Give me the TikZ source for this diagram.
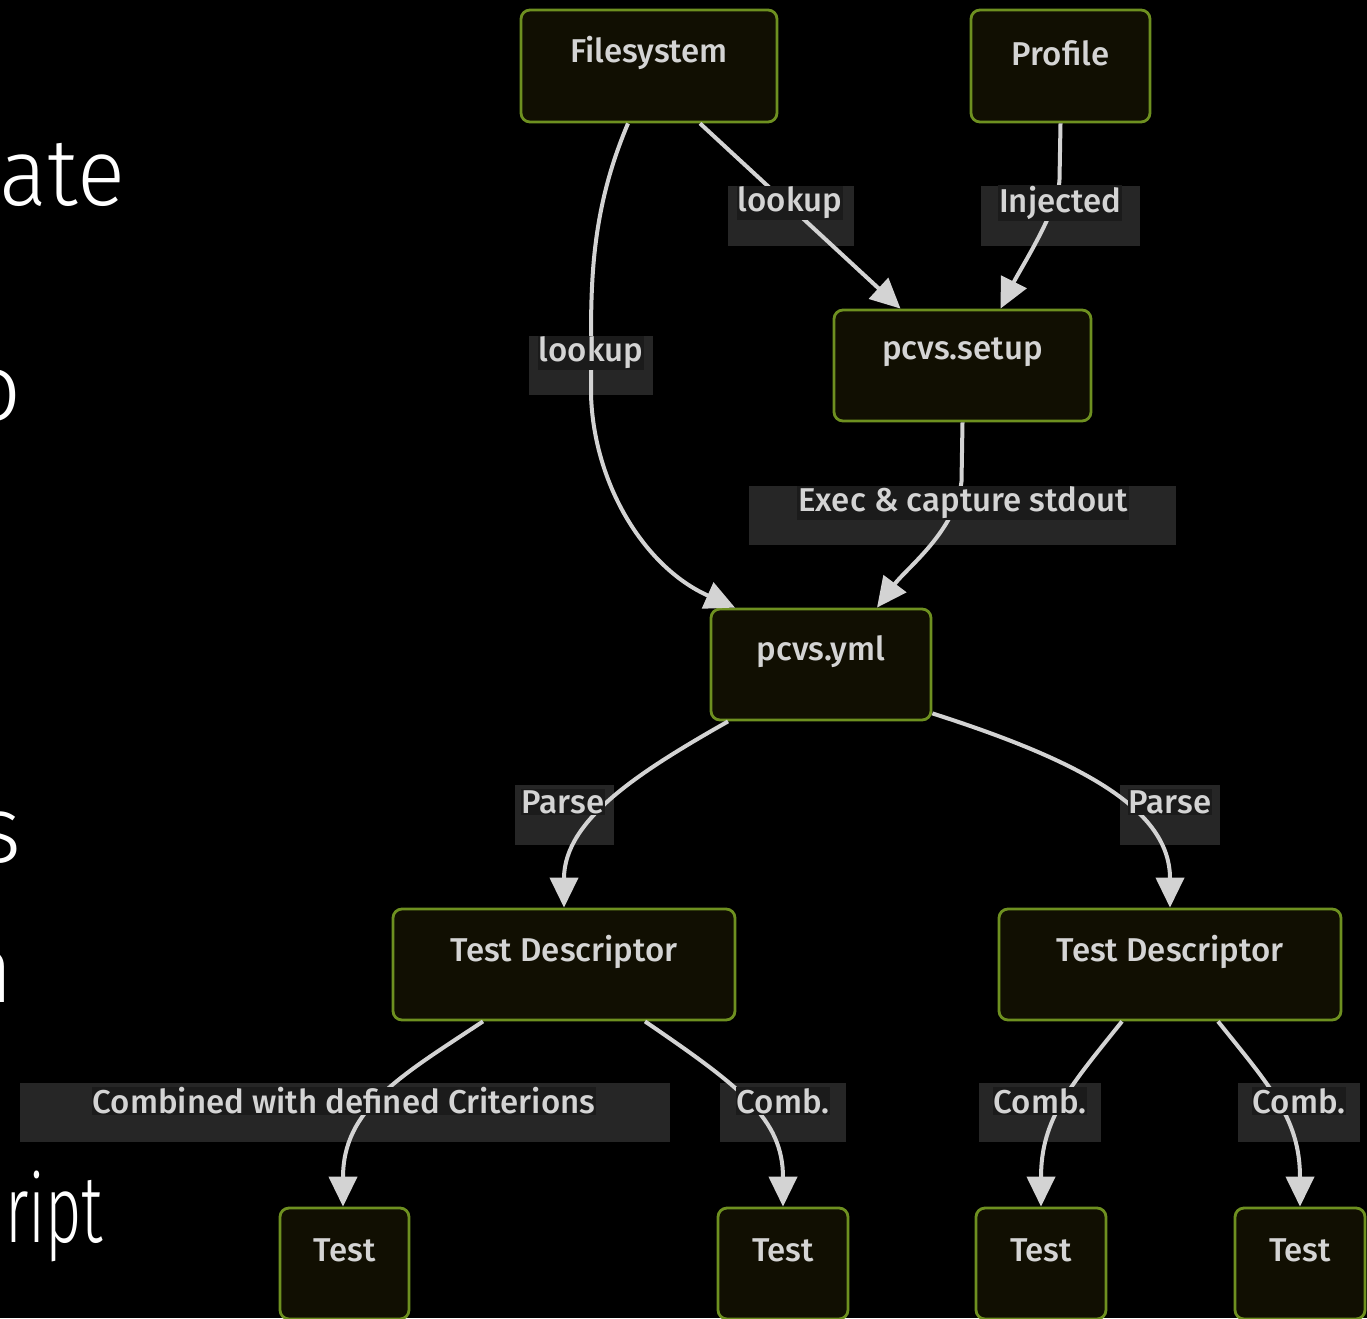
\documentclass[tikz,border=0pt]{standalone}
\usepackage{fontspec}
\setmainfont{Fira Sans}[UprightFont=* Medium]
\newfontfamily\slidefont{Fira Sans}[UprightFont=* Light]
\usetikzlibrary{arrows.meta}
\definecolor{nodefill}{HTML}{110F02}
\definecolor{nodeline}{HTML}{6E9020}
\definecolor{edgec}{HTML}{D3D3D3}
\definecolor{lblboxc}{HTML}{262626}
\definecolor{lbltxtbg}{HTML}{1B1B1B}
\definecolor{txtc}{HTML}{D4D4D4}
\tikzset{
  box/.style={draw=nodeline, line width=2.8pt, fill=nodefill, rounded corners=9pt, inner sep=0pt},
  ntext/.style={text=txtc, font=\fontsize{33}{36}\selectfont, inner sep=0pt},
  lblbox/.style={fill=lblboxc, inner sep=0pt},
  lbltxt/.style={fill=lbltxtbg, text=txtc, inner sep=1pt, font=\fontsize{33}{36}\selectfont},
  conn/.style={draw=edgec, line width=4pt, -{Triangle[length=30pt,width=28pt]}},
  slide/.style={text=white, inner sep=0pt, font=\slidefont\fontsize{95}{100}\selectfont}
}
\begin{document}
\begin{tikzpicture}[x=1pt,y=-1pt]
\useasboundingbox (0,0) rectangle (1367,1318);
\fill[black] (0,0) rectangle (1367,1318);
\begin{scope}
\clip (0,0) rectangle (1367,1318);
% slide text
\node[slide, anchor=base east, xscale=0.94] (s1) at (125,205) {ate};
\node[slide, anchor=base east] (s2) at (22,420) {o};
\node[slide, anchor=base east] (s3) at (22,862) {s};
\node[slide, anchor=base east] (s4) at (14,1002) {n};
\node[slide, anchor=base west, xscale=0.66] (s5) at (5,1242) {ript};
% nodes
\node[box, minimum width=256pt, minimum height=112pt, label={[ntext,yshift=13pt]center:Filesystem}] (fs) at (649,66) {};
\node[box, minimum width=179pt, minimum height=112pt, label={[ntext,yshift=13pt]center:Profile}] (pr) at (1060.5,66) {};
\node[box, minimum width=257pt, minimum height=111pt, label={[ntext,yshift=13pt]center:pcvs.setup}] (setup) at (962.5,365.5) {};
\node[box, minimum width=220pt, minimum height=111pt, label={[ntext,yshift=13pt]center:pcvs.yml}] (yml) at (821,664.5) {};
\node[box, minimum width=342pt, minimum height=111pt, label={[ntext,yshift=13pt]center:Test Descriptor}] (tdl) at (564,964.5) {};
\node[box, minimum width=342pt, minimum height=111pt, label={[ntext,yshift=13pt]center:Test Descriptor}] (tdr) at (1170,964.5) {};
\node[box, minimum width=129pt, minimum height=111pt, label={[ntext,yshift=13pt]center:Test}] (t1) at (344.5,1263.5) {};
\node[box, minimum width=130pt, minimum height=111pt, label={[ntext,yshift=13pt]center:Test}] (t2) at (783,1263.5) {};
\node[box, minimum width=130pt, minimum height=111pt, label={[ntext,yshift=13pt]center:Test}] (t3) at (1041,1263.5) {};
\node[box, minimum width=130pt, minimum height=111pt, label={[ntext,yshift=13pt]center:Test}] (t4) at (1300,1263.5) {};
% label boxes
\node[lblbox, minimum width=126pt, minimum height=60pt] (lb1) at (791,216) {};
\node[lblbox, minimum width=159pt, minimum height=60pt] (lb2) at (1060.5,216) {};
\node[lblbox, minimum width=124pt, minimum height=59pt] (lb3) at (591,365.5) {};
\node[lblbox, minimum width=427pt, minimum height=59pt] (lb4) at (962.5,515.5) {};
\node[lblbox, minimum width=99pt, minimum height=60pt] (lb5) at (564.5,815) {};
\node[lblbox, minimum width=100pt, minimum height=60pt] (lb6) at (1170,815) {};
\node[lblbox, minimum width=650pt, minimum height=59pt] (lb7) at (345,1112.5) {};
\node[lblbox, minimum width=126pt, minimum height=59pt] (lb8) at (783,1112.5) {};
\node[lblbox, minimum width=122pt, minimum height=59pt] (lb9) at (1040,1112.5) {};
\node[lblbox, minimum width=122pt, minimum height=59pt] (lb10) at (1299,1112.5) {};
% connectors
\draw[conn] ([xshift=51pt]fs.south) -- ([xshift=-62pt]setup.north);
\draw[conn] (pr.south) -- ++(-1,56) .. controls +(-1,30) and +(20,-40) .. ([xshift=38pt]setup.north);
\draw[conn] ([xshift=-21pt]fs.south) .. controls +(-33,78) and +(0,-70) .. (lb3.north) -- (lb3.south) .. controls +(3,90) and +(-90,-40) .. ([xshift=-86pt]yml.north);
\draw[conn] (setup.south) -- ++(-1,59) .. controls +(-6,50) and +(30,-40) .. ([xshift=56pt]yml.north);
\draw[conn] ([xshift=-93pt]yml.south) .. controls +(-88,50) and +(0,-88) .. (tdl.north);
\draw[conn] ([yshift=8pt]yml.south east) .. controls +(150,48) and +(0,-98) .. (tdr.north);
\draw[conn] ([xshift=-81pt]tdl.south) .. controls +(-83,55) and +(0,-98) .. ([xshift=-1.5pt]t1.north);
\draw[conn] ([xshift=81pt]tdl.south) .. controls +(95,65) and +(0,-88) .. (t2.north);
\draw[conn] ([xshift=-48pt]tdr.south) .. controls +(-52,65) and +(0,-88) .. (t3.north);
\draw[conn] ([xshift=48pt]tdr.south) .. controls +(52,65) and +(0,-88) .. (t4.north);
% label texts
\node[lbltxt] (lt1) at (790,203) {lookup};
\node[lbltxt] (lt2) at (1060,203) {Injected};
\node[lbltxt] (lt3) at (591,353) {lookup};
\node[lbltxt] (lt4) at (963,503) {Exec \& capture stdout};
\node[lbltxt] (lt5) at (563,802) {Parse};
\node[lbltxt] (lt6) at (1170,802) {Parse};
\node[lbltxt] (lt7) at (344,1101) {Combined with defined Criterions};
\node[lbltxt] (lt8) at (783,1101) {Comb.};
\node[lbltxt] (lt9) at (1040,1101) {Comb.};
\node[lbltxt] (lt10) at (1299,1101) {Comb.};
\end{scope}
\end{tikzpicture}
\end{document}
